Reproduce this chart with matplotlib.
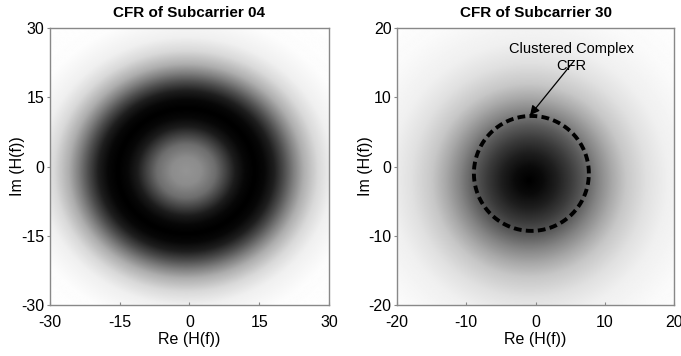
import numpy as np
import matplotlib.pyplot as plt

plt.rcParams['font.family'] = ['Liberation Sans', 'DejaVu Sans']
plt.rcParams['axes.unicode_minus'] = False

# Subcarrier 04: ring-shaped cloud, radial gray profile (0 = black, 1 = white)
left_center = (-0.8, -1.0)
left_stretch = (1.05, 0.97)
left_radius = [0, 3, 6, 8, 10, 12, 14, 16, 18, 20, 22, 24, 27, 30, 35, 45]
left_gray = [0.58, 0.55, 0.43, 0.27, 0.11, 0.03, 0.0, 0.03, 0.12, 0.30, 0.50, 0.68, 0.85, 0.94, 0.99, 1.0]
left_ticks = [-30, -15, 0, 15, 30]

# Subcarrier 30: single cluster
right_center = (-1.0, -2.0)
right_stretch = (1.0, 1.0)
right_radius = [0, 2, 4, 6, 8, 10, 12, 14, 17, 20, 25, 32]
right_gray = [0.0, 0.04, 0.12, 0.23, 0.36, 0.52, 0.66, 0.78, 0.88, 0.94, 0.98, 1.0]
right_ticks = [-20, -10, 0, 10, 20]

# dashed circle marking the clustered CFR
circle_center = (-0.6, -1.0)
circle_radius = 8.3


def density(lim, center, stretch, radii, gray, n=400):
    xs = np.linspace(-lim, lim, n)
    X, Y = np.meshgrid(xs, xs)
    R = np.hypot((X - center[0]) / stretch[0], (Y - center[1]) / stretch[1])
    return np.interp(R, radii, gray)


fig = plt.figure(figsize=(6.81, 3.56), dpi=100)
ax1 = fig.add_axes([0.0734, 0.1433, 0.4097, 0.778])
ax2 = fig.add_axes([0.583, 0.1433, 0.4068, 0.778])

panels = [
    (ax1, 30, left_center, left_stretch, left_radius, left_gray, left_ticks, "CFR of Subcarrier 04"),
    (ax2, 20, right_center, right_stretch, right_radius, right_gray, right_ticks, "CFR of Subcarrier 30"),
]

for ax, lim, c, st, rr, gg, ticks, title in panels:
    img = density(lim, c, st, rr, gg)
    ax.imshow(img, cmap="gray", vmin=0, vmax=1, origin="lower",
              extent=[-lim, lim, -lim, lim], interpolation="bilinear", aspect="auto")
    ax.set_xlim(-lim, lim)
    ax.set_ylim(-lim, lim)
    ax.set_xticks(ticks)
    ax.set_yticks(ticks)
    ax.tick_params(axis="x", direction="in", length=2, color="#888888", labelsize=11.5, pad=7)
    ax.tick_params(axis="y", direction="out", length=2, color="#888888", labelsize=11.5, pad=2)
    for s in ax.spines.values():
        s.set_color("#888888")
        s.set_linewidth(1.0)
    ax.set_title(title, fontsize=11, fontweight="bold", pad=8)
    ax.set_xlabel("Re (H(f))", fontsize=11.5, labelpad=2)
    ax.set_ylabel("Im (H(f))", fontsize=11.5, labelpad=-3)

t = np.linspace(0, 2 * np.pi, 400)
ax2.plot(circle_center[0] + circle_radius * np.cos(t),
         circle_center[1] + circle_radius * np.sin(t),
         color="black", linestyle=(0, (2.0, 1.1)), linewidth=2.8)

ax2.text(5.2, 15.7, "Clustered Complex\nCFR", ha="center", va="center",
         fontsize=10.5, linespacing=1.3)
ax2.annotate("", xy=(-0.8, 7.4), xytext=(5.6, 15.3),
             arrowprops=dict(arrowstyle="-|>", color="black", lw=0.9,
                             mutation_scale=14, shrinkA=0, shrinkB=0))

fig.savefig("out.png", dpi=100)
